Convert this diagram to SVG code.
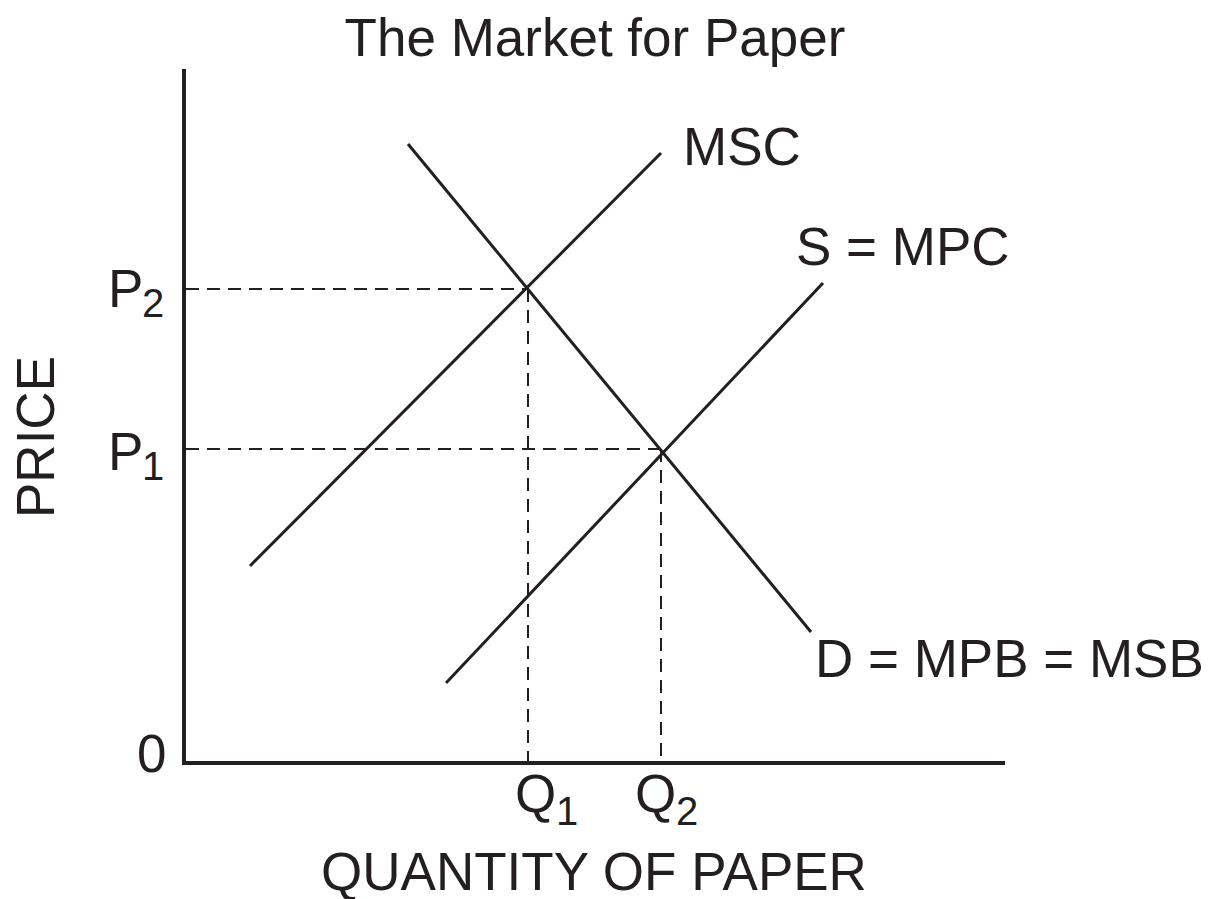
<svg xmlns="http://www.w3.org/2000/svg" width="1209" height="899" viewBox="0 0 1209 899">
<style>
text{font-family:"Liberation Sans",Arial,sans-serif;fill:#231f20}
.t{font-size:53px}
.s{font-size:40px}
.axis{stroke:#231f20;stroke-width:4;fill:none}
.curve{stroke:#231f20;stroke-width:3;fill:none}
.dash{stroke:#231f20;stroke-width:2;stroke-dasharray:13 8;fill:none}
</style>
<rect width="1209" height="899" fill="#fff"/>
<g id="title"><text class="t" x="595" y="56" text-anchor="middle">The Market for Paper</text></g>
<g id="axes">
<polyline class="axis" points="184,69 184,763 1005,763"/>
<text class="t" x="137" y="772">0</text>
<text class="t" transform="translate(54,437) rotate(-90)" text-anchor="middle">PRICE</text>
<text class="t" x="594" y="890" text-anchor="middle">QUANTITY OF PAPER</text>
</g>
<g id="connectors">
<line class="dash" x1="186" y1="289" x2="528" y2="289"/>
<line class="dash" x1="528" y1="289" x2="528" y2="761"/>
<line class="dash" x1="186" y1="449" x2="661" y2="449"/>
<line class="dash" x1="661" y1="449" x2="661" y2="761"/>
</g>
<g id="MSC">
<line class="curve" x1="250" y1="566" x2="661" y2="153"/>
<text class="t" x="683" y="165">MSC</text>
</g>
<g id="S">
<line class="curve" x1="446" y1="683" x2="823" y2="283"/>
<text class="t" x="796" y="265">S = MPC</text>
</g>
<g id="D">
<line class="curve" x1="408" y1="144" x2="811" y2="632"/>
<text class="t" x="815" y="677">D = MPB = MSB</text>
</g>
<g id="P2"><text class="t" x="108" y="307">P</text><text class="s" x="142" y="317">2</text></g>
<g id="P1"><text class="t" x="108" y="470">P</text><text class="s" x="142" y="480">1</text></g>
<g id="Q1"><text class="t" x="515" y="812">Q</text><text class="s" x="556" y="825">1</text></g>
<g id="Q2"><text class="t" x="635" y="812">Q</text><text class="s" x="676" y="825">2</text></g>
</svg>
